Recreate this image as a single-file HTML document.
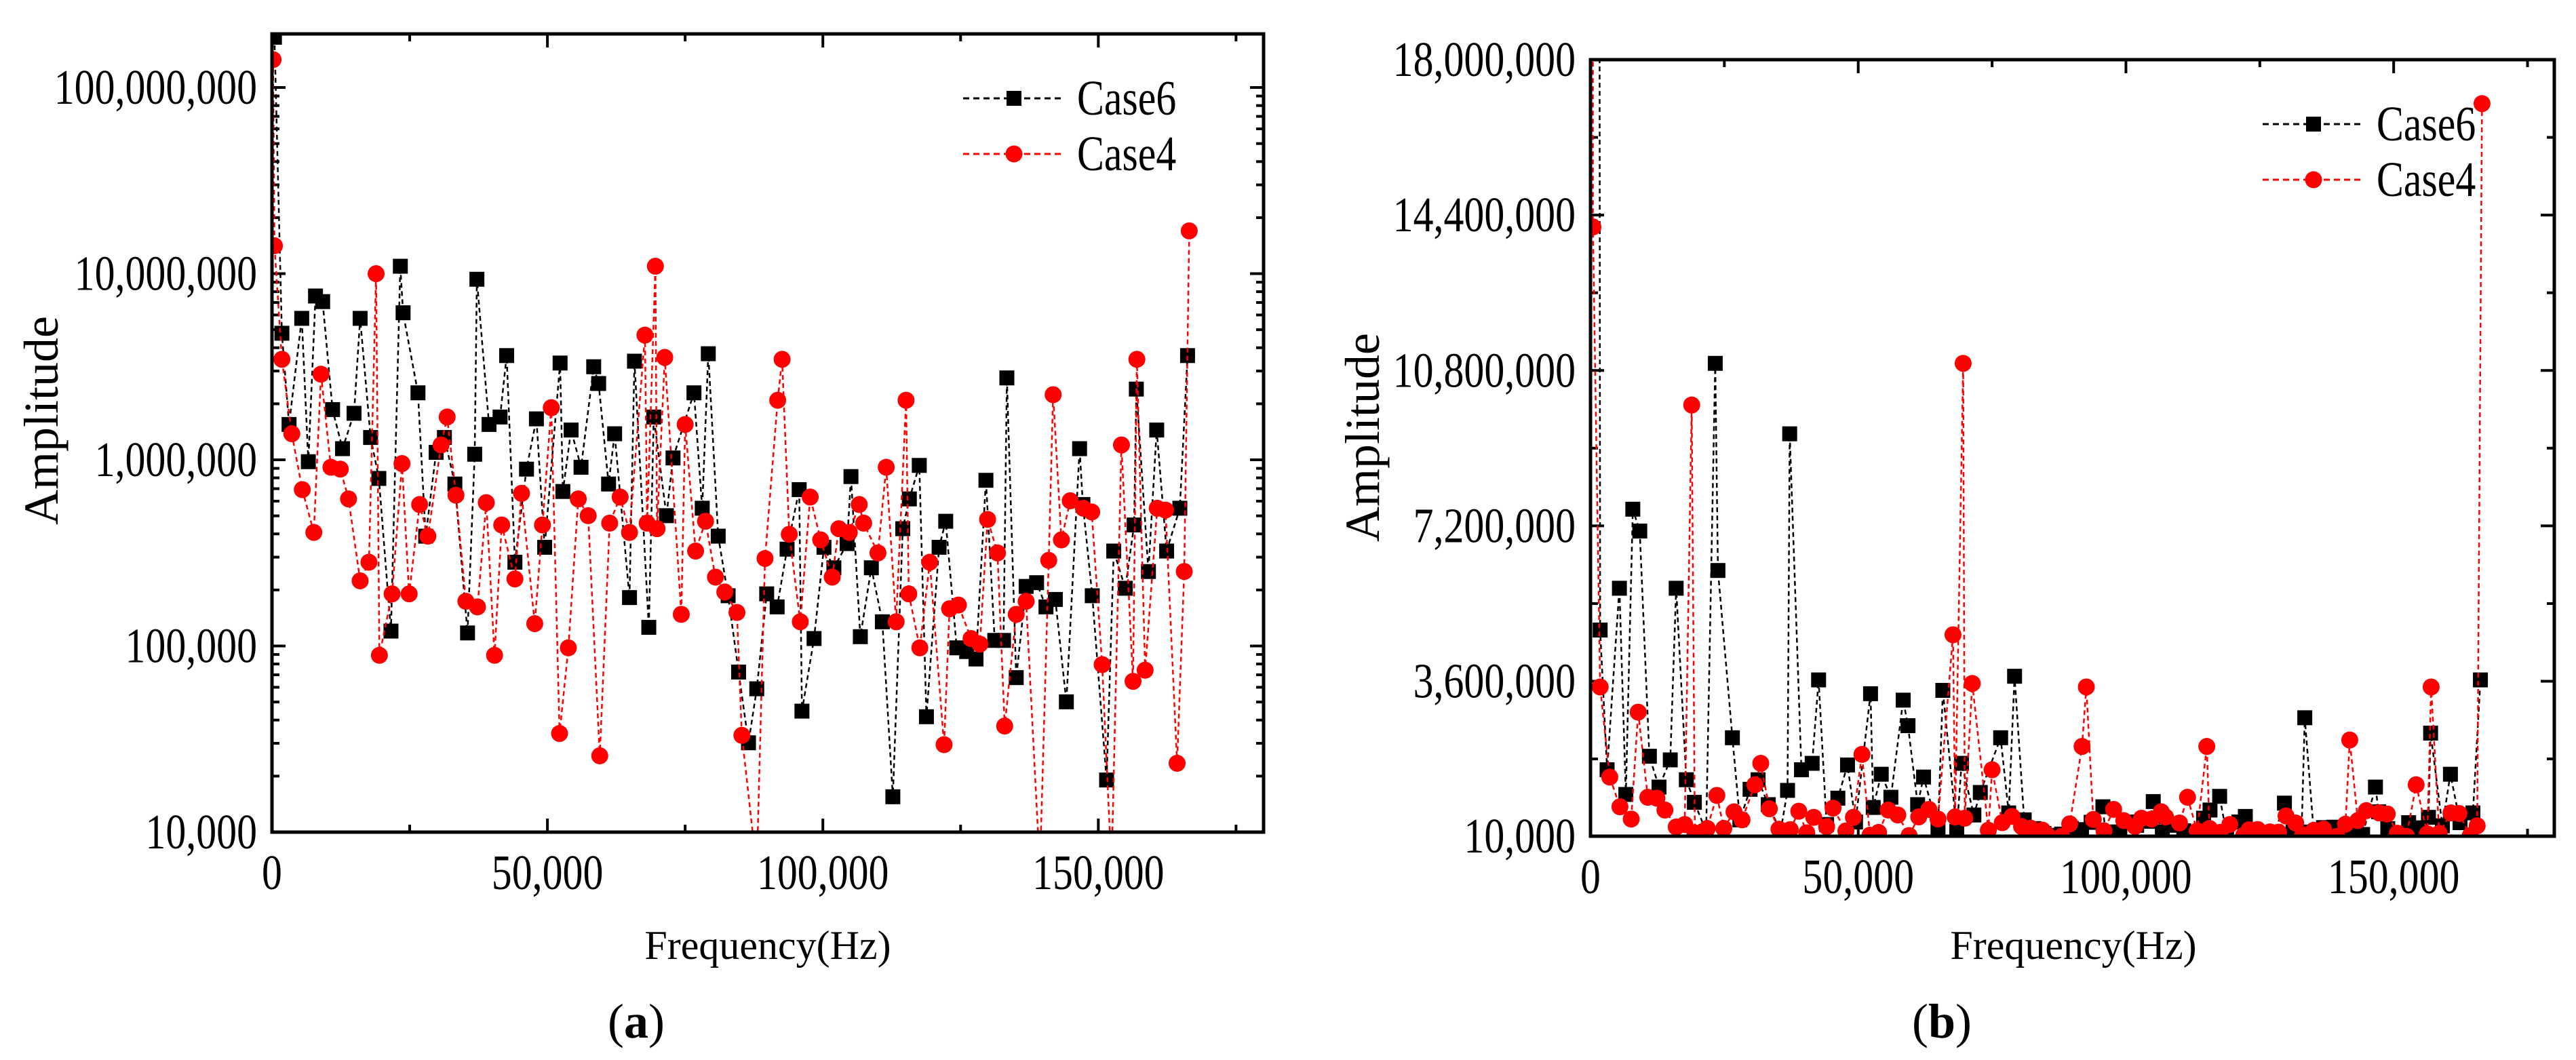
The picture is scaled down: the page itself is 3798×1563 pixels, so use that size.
<!DOCTYPE html>
<html><head><meta charset="utf-8"><style>
html,body{margin:0;padding:0;background:#fff;}
svg{display:block;font-family:"Liberation Serif",serif;}
</style></head><body>
<svg id="fig" width="3798" height="1563" viewBox="0 0 3798 1563" xmlns="http://www.w3.org/2000/svg"></svg>
<script>
// Frequencies in kHz, amplitude as log10 values
const case6Freq=[0.45,1.8,3.1,5.4,6.6,7.9,9.2,11.0,12.8,14.9,16.0,17.9,19.4,21.6,23.3,23.8,26.5,27.9,29.8,31.3,33.2,35.5,36.8,37.2,39.4,41.4,42.6,44.1,46.2,48.0,49.5,52.3,52.8,54.3,56.1,58.4,59.3,61.1,62.2,64.9,65.8,68.4,69.3,71.6,72.8,76.6,78.1,79.2,81.0,82.8,84.7,86.5,88.0,89.8,91.7,93.5,95.7,96.2,98.4,100.2,102.0,104.4,105.1,106.8,108.8,110.8,112.7,114.5,115.7,117.5,118.8,121.1,122.3,124.3,126.1,127.8,129.6,131.2,132.8,133.4,135.1,136.9,138.8,140.5,142.2,144.2,146.6,147.2,148.9,151.5,152.8,154.9,156.5,156.9,159.1,160.6,162.4,164.8,166.2];
const case6Log=[8.27,6.68,6.19,6.76,5.99,6.88,6.85,6.27,6.06,6.25,6.76,6.12,5.90,5.08,7.04,6.79,6.36,5.59,6.04,6.12,5.87,5.07,6.03,6.97,6.19,6.23,6.56,5.45,5.95,6.22,5.53,6.52,5.83,6.16,5.96,6.50,6.41,5.87,6.14,5.26,6.53,5.10,6.23,5.70,6.01,6.36,5.74,6.57,5.59,5.27,4.86,4.48,4.77,5.28,5.21,5.52,5.84,4.65,5.04,5.53,5.42,5.55,5.91,5.05,5.42,5.13,4.19,5.63,5.79,5.97,4.62,5.53,5.67,4.99,4.97,4.93,5.89,5.03,5.03,6.44,4.83,5.32,5.34,5.21,5.25,4.70,6.06,5.76,5.27,4.28,5.51,5.31,5.65,6.38,5.40,6.16,5.51,5.74,6.56];
const case4Freq=[0.2,0.45,1.8,3.6,5.5,7.6,8.9,10.7,12.4,13.9,16.0,17.6,18.9,19.5,21.8,23.6,24.9,26.8,28.3,30.7,31.8,33.4,35.2,37.3,38.9,40.4,41.7,44.1,45.3,47.7,49.1,50.7,52.2,53.8,55.6,57.4,59.5,61.3,63.2,64.9,67.7,68.1,69.6,69.9,71.3,74.3,75.0,76.9,78.7,80.5,82.2,84.4,85.3,88.0,89.5,91.8,92.6,93.9,95.9,97.7,99.6,101.7,102.9,104.8,106.6,107.4,110.0,111.5,113.3,115.1,115.6,117.6,119.4,122.0,123.0,124.6,126.9,128.5,129.9,131.7,133.0,135.1,136.9,139.4,141.0,141.8,143.3,144.9,147.3,148.8,150.7,152.4,154.2,156.3,157.0,158.5,160.7,162.2,164.3,165.6,166.5];
const case4Log=[8.15,7.15,6.54,6.14,5.84,5.61,6.46,5.96,5.95,5.79,5.35,5.45,7.00,4.95,5.28,5.98,5.28,5.76,5.59,6.08,6.23,5.81,5.24,5.21,5.77,4.95,5.65,5.36,5.82,5.12,5.65,6.28,4.53,4.99,5.79,5.70,4.41,5.66,5.80,5.61,6.67,5.66,7.04,5.63,6.55,5.17,6.19,5.51,5.67,5.37,5.29,5.18,4.52,3.8,5.47,6.32,6.54,5.60,5.13,5.80,5.57,5.37,5.63,5.61,5.76,5.66,5.50,5.96,5.13,6.32,5.28,4.99,5.45,4.47,5.20,5.22,5.04,5.01,5.68,5.50,4.57,5.17,5.24,3.8,5.46,6.35,5.57,5.78,5.74,5.72,4.90,3.8,6.08,4.81,6.54,4.87,5.74,5.73,4.37,5.40,7.23];
const xTicksA=[0,50,100,150];
const xTickLabelsA=["0","50,000","100,000","150,000"];
const yTicksLogA=[4,5,6,7,8];
const yTickLabelsA=["10,000","100,000","1,000,000","10,000,000","100,000,000"];
const yTicksB=[10000,3600000,7200000,10800000,14400000,18000000];
const yTickLabelsB=["10,000","3,600,000","7,200,000","10,800,000","14,400,000","18,000,000"];

const NS="http://www.w3.org/2000/svg";
const svg=document.getElementById('fig');
function mk(tag,attrs,parent){const e=document.createElementNS(NS,tag);for(const k in attrs)e.setAttribute(k,attrs[k]);(parent||svg).appendChild(e);return e;}
function ctext(parent,x,y,anchor,size,str){
  const t=mk('text',{x:0,y:0,'text-anchor':anchor,'font-size':size,transform:'translate('+x+','+y+') scale(0.82,1)'},parent);
  t.textContent=str;return t;
}

function panel(p){
  const g=mk('g',{});
  
  
  const clipId='clip'+p.id;
  const cp=mk('clipPath',{id:clipId},g);
  mk('rect',{x:p.x0,y:p.y0,width:p.x1-p.x0,height:p.y1-p.y0},cp);
  const sx=v=>p.x0+(v-0)/(180-0)*(p.x1-p.x0);
  const sy=p.sy;
  const tg=mk('g',{stroke:'#000','stroke-width':4},g);
  
  
  for(let v=0;v<=180;v+=25){
    const L=(v%50===0)?20:11;const x=sx(v);
    mk('line',{x1:x,y1:p.y1,x2:x,y2:p.y1-L},tg);
    mk('line',{x1:x,y1:p.y0,x2:x,y2:p.y0+L},tg);
  }
  p.yMinor.forEach(t=>{const y=t[0],L=t[1]?20:11;
    mk('line',{x1:p.x0,y1:y,x2:p.x0+L,y2:y},tg);
    mk('line',{x1:p.x1,y1:y,x2:p.x1-L,y2:y},tg);});
  const series=[
    {f:case6Freq,v:p.v6,color:'#000',sq:true,n:'case6-series'},
    {f:case4Freq,v:p.v4,color:'#f00',sq:false,n:'case4-series'}];
  series.forEach(s=>{
    const sg=mk('g',{'clip-path':'url(#'+clipId+')'},g);
    
    
    const pts=s.f.map((f,i)=>sx(f).toFixed(1)+','+sy(s.v[i]).toFixed(1)).join(' ');
    const pl=mk('polyline',{points:pts,fill:'none',stroke:s.color,'stroke-width':2.5,'stroke-dasharray':'7,5'},sg);
    
    
    s.f.forEach((f,i)=>{
      const x=sx(f),y=sy(s.v[i]);let m;
      if(s.sq){m=mk('rect',{x:x-11,y:y-11,width:22,height:22,fill:'#000'},sg);}
      else{m=mk('circle',{cx:x,cy:y,r:12.5,fill:'#f00'},sg);}
      
      
    });
  });
  const fr=mk('rect',{x:p.x0,y:p.y0,width:p.x1-p.x0,height:p.y1-p.y0,fill:'none',stroke:'#000','stroke-width':5},g);
  
  
  xTicksA.forEach((v,i)=>{const t=ctext(g,sx(v),p.y1+84,'middle',73,xTickLabelsA[i]);
    });
  p.yLabels.forEach(l=>{const t=ctext(g,p.x0-22,l[0]+24,'end',73,l[1]);
    });
  const xt=mk('text',{x:p.xtX,y:1414,'text-anchor':'middle','font-size':60},g);xt.textContent='Frequency(Hz)';
  
  const yt=mk('text',{x:0,y:0,'text-anchor':'middle','font-size':72,transform:'translate('+(p.ytX+25)+','+p.ytY+') rotate(-90)'},g);yt.textContent='Amplitude';
  
  const cap=mk('text',{x:p.capX,y:1530,'text-anchor':'middle','font-size':72},g);
  
  const t1=mk('tspan',{},cap);t1.textContent='(';const t2=mk('tspan',{'font-weight':'bold'},cap);t2.textContent=p.id;const t3=mk('tspan',{},cap);t3.textContent=')';
  const lg=mk('g',{},g);
  
  [['Case6','#000',true,p.legY],['Case4','#f00',false,p.legY+82]].forEach(e=>{
    const eg=mk('g',{},lg);
    
    mk('line',{x1:p.legX,y1:e[3],x2:p.legX+150,y2:e[3],stroke:e[1],'stroke-width':3,'stroke-dasharray':'9,6'},eg);
    const mx=p.legX+75;
    if(e[2])mk('rect',{x:mx-11,y:e[3]-11,width:22,height:22,fill:'#000'},eg);else mk('circle',{cx:mx,cy:e[3],r:12.5,fill:'#f00'},eg);
    ctext(eg,p.legX+168,e[3]+24,'start',73,e[0]);
  });
}

(function(){
  const x0=401,x1=1863,y0=50,y1=1227,dec=(1227-50)/4.288;
  const sy=l=>y1-(l-4)*dec;
  const minor=[];
  for(let d=4;d<9;d++){for(let k=1;k<10;k++){const l=d+Math.log10(k);const y=sy(l);if(y>=y0-1)minor.push([y,k===1]);}}
  panel({id:'a',name:'panel-a-log-chart',x0,x1,y0,y1,sy,v6:case6Log,v4:case4Log,yMinor:minor,
    yLabels:yTicksLogA.map((l,i)=>[sy(l),yTickLabelsA[i]]),xtX:1132,ytX:60,ytY:620,capX:938,legX:1420,legY:145});
})();
(function(){
  const x0=2345,x1=3766,y0=88,y1=1233;
  const lo=10000,hi=18000000;
  const sy=v=>y1-(v-lo)/(hi-lo)*(y1-y0);
  const lin=a=>a.map(l=>Math.pow(10,l));
  const minor=[];
  for(let v=0;v<=18000000;v+=1800000){minor.push([sy(Math.max(v,lo)),v%3600000===0]);}
  panel({id:'b',name:'panel-b-linear-chart',x0,x1,y0,y1,sy,v6:lin(case6Log),v4:lin(case4Log),yMinor:minor,
    yLabels:yTicksB.map((v,i)=>[sy(v),yTickLabelsB[i]]),xtX:3057,ytX:2008,ytY:645,capX:2863,legX:3336,legY:183});
})();
</script>
</body></html>
